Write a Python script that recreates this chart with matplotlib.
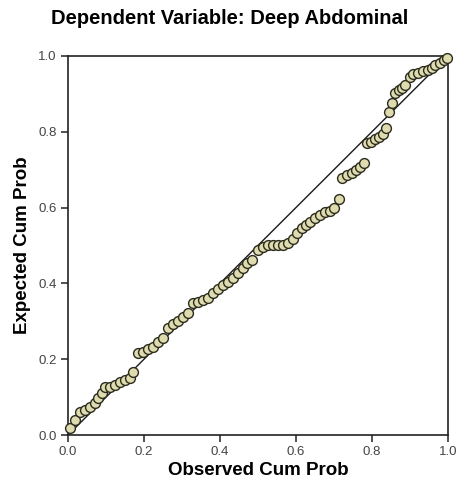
import matplotlib
matplotlib.use("Agg")
import matplotlib.pyplot as plt

# observed vs expected cumulative probability (P-P plot of residuals)
observed = [0.005, 0.018, 0.032, 0.045, 0.058, 0.071, 0.08, 0.089, 0.097, 0.11,
            0.124, 0.137, 0.15, 0.163, 0.171, 0.184, 0.197, 0.21, 0.224, 0.237,
            0.25, 0.263, 0.276, 0.29, 0.303, 0.316, 0.329, 0.342, 0.355, 0.368,
            0.382, 0.395, 0.408, 0.421, 0.434, 0.447, 0.46, 0.471, 0.484, 0.5,
            0.513, 0.526, 0.539, 0.553, 0.566, 0.579, 0.592, 0.603, 0.615, 0.626,
            0.637, 0.65, 0.663, 0.676, 0.689, 0.70, 0.713, 0.72, 0.734, 0.747,
            0.757, 0.768, 0.78, 0.787, 0.797, 0.808, 0.818, 0.829, 0.837, 0.845,
            0.853, 0.861, 0.87, 0.878, 0.887, 0.9, 0.908, 0.921, 0.934, 0.947,
            0.958, 0.966, 0.979, 0.99, 0.998]
expected = [0.018, 0.040, 0.061, 0.066, 0.074, 0.084, 0.098, 0.111, 0.127, 0.127,
            0.132, 0.14, 0.145, 0.15, 0.166, 0.216, 0.219, 0.226, 0.232, 0.245,
            0.256, 0.282, 0.292, 0.30, 0.311, 0.322, 0.348, 0.352, 0.356, 0.362,
            0.375, 0.385, 0.395, 0.404, 0.415, 0.427, 0.44, 0.454, 0.462, 0.488,
            0.497, 0.501, 0.502, 0.502, 0.502, 0.507, 0.517, 0.533, 0.545, 0.553,
            0.562, 0.572, 0.58, 0.588, 0.592, 0.60, 0.623, 0.678, 0.686, 0.692,
            0.70, 0.708, 0.718, 0.77, 0.773, 0.78, 0.787, 0.795, 0.81, 0.852,
            0.876, 0.902, 0.91, 0.915, 0.923, 0.945, 0.952, 0.955, 0.96, 0.963,
            0.968, 0.975, 0.982, 0.99, 0.995]
ticks = [0.0, 0.2, 0.4, 0.6, 0.8, 1.0]
tick_labels = ["0.0", "0.2", "0.4", "0.6", "0.8", "1.0"]

plt.rcParams['font.family'] = ['Liberation Sans', 'DejaVu Sans']

fig = plt.figure(figsize=(4.59, 4.90), dpi=100)
ax = fig.add_axes([0.148, 0.112, 0.828, 0.774])

# diagonal reference line
ax.plot([0, 1], [0, 1], color='#1a1a1a', lw=1.0, zorder=2)
ax.scatter(observed, expected, s=50, facecolor='#dedbae', edgecolor='#2b2b1e',
           linewidth=1.0, zorder=3, clip_on=False)

ax.set_xlim(0, 1)
ax.set_ylim(0, 1)
ax.set_xticks(ticks)
ax.set_xticklabels(tick_labels)
ax.set_yticks(ticks)
ax.set_yticklabels(tick_labels)
ax.tick_params(direction='out', length=5, width=1.1, color='#222222',
               labelsize=9.5, labelcolor='#444444', pad=3)
for s in ax.spines.values():
    s.set_linewidth(1.2)
    s.set_color('#222222')

ax.set_xlabel('Observed Cum Prob', fontsize=13.5, fontweight='bold', labelpad=3)
ax.set_ylabel('Expected Cum Prob', fontsize=13.5, fontweight='bold', labelpad=5)
fig.text(0.5, 0.963, 'Dependent Variable: Deep Abdominal', ha='center', va='center',
         fontsize=14.5, fontweight='bold')

fig.savefig('out.png', dpi=100)
